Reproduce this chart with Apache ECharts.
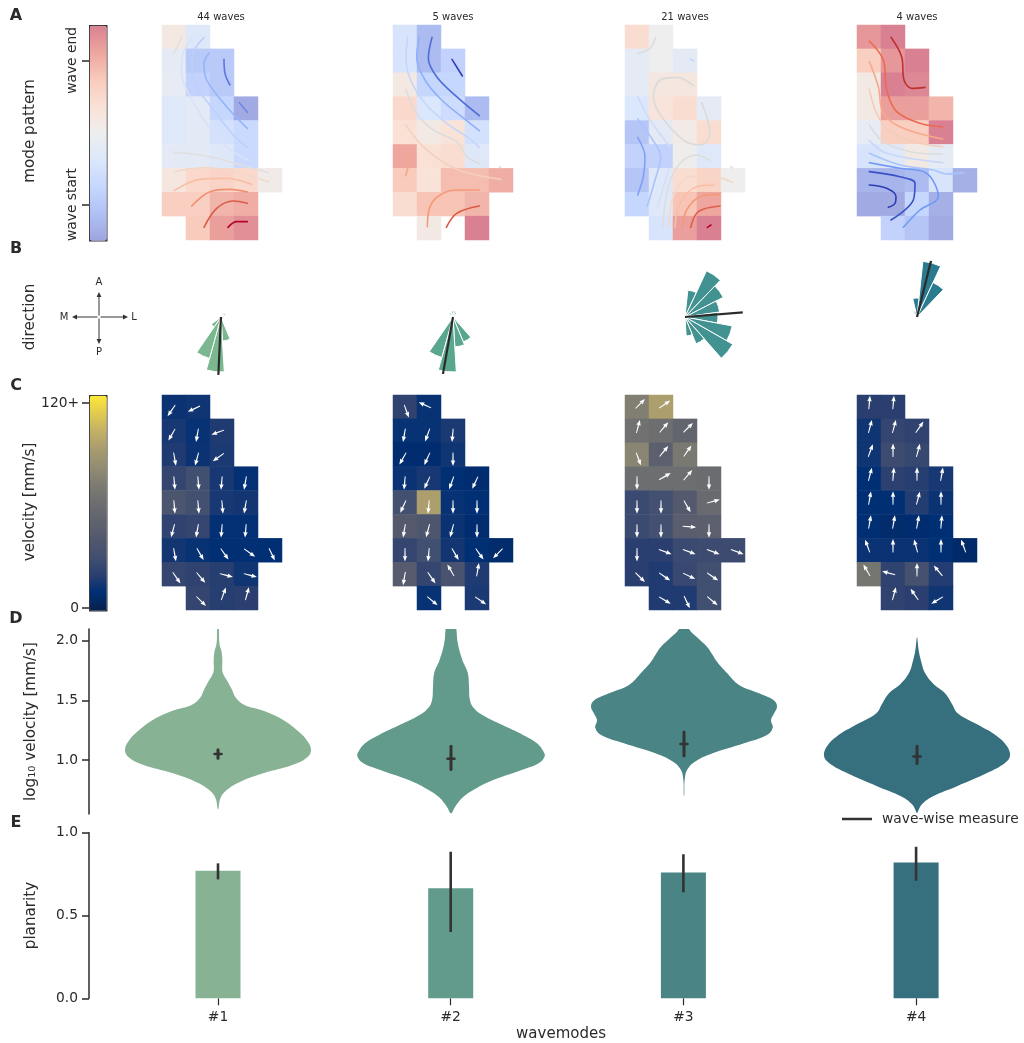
<!DOCTYPE html>
<html><head><meta charset="utf-8">
<style>html,body{margin:0;padding:0;background:#fff}#c{width:1024px;height:1043px}</style>
<script src="https://cdn.jsdelivr.net/npm/echarts@6/dist/echarts.min.js"></script>
</head><body><div id="c"></div>
<script>
// ---------- values ----------
const waveTitles = ['44 waves','5 waves','21 waves','4 waves'];
const modeNames = ['#1','#2','#3','#4'];
const _ = null;
// A: mode pattern, rows top to bottom, -1 wave start .. 1 wave end
const pattern1 = [[.12,-.2,_,_,_],[-.12,-.65,-.65,_,_],[-.1,-.55,-.65,_,_],[-.2,-.15,-.5,-.95,_],[-.2,-.15,-.35,-.45,_],[-.15,-.15,-.2,-.45,_],[.15,.35,.4,.35,.05],[.45,.45,.65,.7,_],[_,.5,.8,.9,_]];
const pattern2 = [[-.3,-.8,_,_,_],[-.3,-.8,-.55,_,_],[.12,-.5,-.5,_,_],[.35,-.25,-.4,-.8,_],[.25,.1,.22,-.35,_],[.75,.25,.3,-.2,_],[.5,.22,.6,.6,.7],[.3,.55,.55,.65,_],[_,.1,_,1,_]];
const pattern3 = [[.3,0,_,_,_],[-.12,0,-.15,_,_],[-.12,.15,.15,_,_],[-.25,.2,.3,-.12,_],[-.7,-.15,.08,.3,_],[-.55,-.55,.02,-.2,_],[-.7,-.2,.3,.4,0],[-.5,-.2,.55,.75,_],[_,-.3,.8,1,_]];
const pattern4 = [[.85,1,_,_,_],[.45,.85,1,_,_],[.1,1,.95,_,_],[.1,.8,.8,.65,_],[-.1,.45,.45,1,_],[-.3,-.2,.1,-.12,_],[-.85,-.85,-.8,-.3,-.9],[-.95,-.95,-.5,-.9,_],[_,-.55,-.7,-.95,_]];
// A: streamlines, in lattice units (360 wide, 645 tall over the electrode grid)
const streams1 = [
 [[59,37],[36,85]],
 [[92,37],[62,90],[59,145],[84,215],[114,265],[150,320],[200,370],[256,405]],
 [[126,37],[90,95],[95,165],[155,255],[214,330],[256,367]],
 [[141,85],[126,115],[134,165],[194,245],[256,310]],
 [[186,103],[189,145],[204,180]],
 [[232,233],[256,262]],
 [[36,382],[94,387],[164,400],[234,420],[320,443]],
 [[36,440],[134,428],[214,440],[320,470]],
 [[36,497],[114,463],[194,460],[269,478]],
 [[89,543],[144,500],[204,493],[256,501]],
 [[126,607],[164,550],[214,528],[256,535]],
 [[198,607],[224,590],[256,590]]];
const shades1 = ['#e0e0e0','#d8e2f6','#bcd0fb','#94b4fb','#5a76e0','#6f86e8','#e0dede','#f2d8c9','#f8bfa5','#f0906f','#d95c48','#b40426'];
const streams2 = [
 [[44,37],[39,95],[51,160],[96,235],[161,295],[221,335],[259,367]],
 [[79,37],[71,95],[96,165],[146,225],[206,275],[259,317]],
 [[117,37],[106,100],[131,155],[191,215],[259,272]],
 [[177,103],[208,153]],
 [[38,193],[71,265],[121,315],[191,350],[221,395],[261,417]],
 [[38,300],[81,355],[141,405],[211,440],[323,463]],
 [[39,387],[46,415],[38,452]],
 [[103,605],[111,545],[141,510],[191,495],[259,495]],
 [[160,607],[191,565],[259,543]],
 [[319,425],[323,428]]];
const shades2 = ['#c5d6fb','#8fb0fb','#4f6cd8','#2f3fb5','#dcdcdc','#f5d0bc','#f5a688','#f49a78','#dc5a42','#dddddd'];
const streams3 = [
 [[92,37],[75,70],[38,85]],
 [[197,103],[206,107]],
 [[206,182],[155,157],[105,165],[85,215],[110,275],[175,345],[225,360],[255,325],[230,233]],
 [[38,215],[75,285],[135,365]],
 [[132,430],[97,547]],
 [[113,607],[130,485],[165,415],[215,390],[255,407]],
 [[38,282],[90,355],[107,395],[90,465],[67,543]],
 [[38,337],[60,395],[55,455],[38,510]],
 [[132,607],[145,515],[195,455],[265,455],[323,472]],
 [[150,607],[165,535],[215,485],[267,480]],
 [[172,607],[185,555],[225,515],[285,508]],
 [[197,607],[220,560],[285,543]],
 [[247,607],[258,600]],
 [[317,425],[323,429]]];
const shades3 = ['#dcdcdc','#c5d6fb','#dadada','#cfdcf7','#d5e0f5','#dddddd','#a9c3fb','#7fa0f5','#f5d8c8','#f9bfa5','#f29a78','#dd5f48','#b40426','#dddddd'];
const streams4 = [
 [[102,37],[134,95],[141,165],[164,190],[204,187]],
 [[37,48],[79,105],[89,195],[119,260],[189,295],[257,306]],
 [[37,110],[64,185],[79,265],[139,310],[257,342]],
 [[37,193],[59,265],[99,320],[189,355],[257,365]],
 [[37,300],[79,350],[159,380],[257,387]],
 [[37,347],[89,385],[257,413]],
 [[37,385],[129,420],[229,435],[269,447],[321,443]],
 [[37,413],[129,430],[209,445],[244,515],[189,555],[139,607]],
 [[37,440],[129,455],[174,475],[169,525],[102,585]],
 [[37,480],[89,490],[117,515],[114,535],[94,547]]];
const shades4 = ['#c0302f','#e96a50','#f9a98a','#f3cdb9','#dcdcdc','#c8d7f8','#a9c3fb','#7099f5','#3a50c8','#2d3fb0'];
// B: rose lengths per 19 direction bins, and mean direction (deg clockwise from A)
const rose1 = [3,4,5,0,0,0,0,0,24,55,43,12,0,0,0,0,0,0,0];
const rose2 = [6,5,0,0,0,0,0,27,30,55,42,0,0,0,0,0,5,0,6];
const rose3 = [27,51,43,35,33,48,55,29,19,0,0,0,0,0,0,0,0,0,0];
const rose4 = [56,38,0,0,0,0,0,0,0,0,0,0,0,0,0,0,0,6,19];
const roseBins = ['b0','b1','b2','b3','b4','b5','b6','b7','b8','b9','b10','b11','b12','b13','b14','b15','b16','b17','b18'];
const meanDirection = [182.6,190,85.5,14];
const meanDirectionLength = [58,58,59,58];
// C: velocity per electrode
const velocity1 = [[12,13,_,_,_],[15,11,17,_,_],[17,12,16,_,_],[24,30,15,10,_],[37,31,15,14,_],[22,24,10,10,_],[14,11,9,10,9],[24,22,19,13,_],[_,24,19,20,_]];
const velocity2 = [[22,11,_,_,_],[11,11,16,_,_],[8,8,13,_,_],[12,15,9,8,_],[31,95,11,9,_],[42,38,12,8,_],[24,30,14,9,7],[44,24,35,17,_],[_,11,_,16,_]];
const velocity3 = [[74,95,_,_,_],[64,62,53,_,_],[78,48,70,_,_],[62,62,62,60,_],[27,31,42,58,_],[27,31,46,48,_],[20,20,27,28,28],[20,17,26,30,_],[_,17,17,30,_]];
const velocity4 = [[20,20,_,_,_],[13,24,22,_,_],[13,28,25,_,_],[9,21,19,15,_],[9,9,18,12,_],[9,7,8,9,_],[12,12,12,9,6],[68,22,33,18,_],[_,22,20,13,_]];
// C: arrow heading, deg clockwise from up
const heading1 = [[215,245,_,_,_],[210,190,250,_,_],[170,195,235,_,_],[175,175,185,190,_],[175,175,175,190,_],[195,190,185,185,_],[170,150,145,125,155],[145,140,105,105,_],[_,135,20,15,_]];
const heading2 = [[160,295,_,_,_],[190,200,185,_,_],[210,205,180,_,_],[185,205,200,205,_],[205,185,180,180,_],[190,195,195,180,_],[180,185,150,145,225],[190,145,330,10,_],[_,130,_,125,_]];
const heading3 = [[45,55,_,_,_],[15,40,45,_,_],[160,40,35,_,_],[180,60,40,180,_],[180,180,150,75,_],[180,180,95,180,_],[180,110,110,110,110],[135,125,115,125,_],[_,120,155,130,_]];
const heading4 = [[5,5,_,_,_],[15,15,35,_,_],[20,0,15,_,_],[15,5,0,10,_],[10,0,15,0,_],[10,10,10,5,_],[340,0,345,0,340],[330,285,0,320,_],[_,15,325,240,_]];
// D: violin outlines: log10 velocity and half width (x axis has 233 units per mode)
const violinCentres = [0,233,466,699];
const violinLog1 = [2.12,1.98,1.91,1.84,1.75,1.71,1.66,1.59,1.52,1.46,1.42,1.365,1.32,1.25,1.18,1.09,1.02,.96,.89,.82,.75,.68,.585];
const violinHalf1 = [.7,1.4,3.5,4.3,4.3,6,9.6,14,18,27,43,59,68,79,87.5,93,89,75,46,23,9,2.5,.3];
const violinLog2 = [2.2,2.10,1.98,1.84,1.73,1.615,1.50,1.435,1.38,1.295,1.21,1.14,1.07,1.03,.975,.92,.835,.765,.695,.61,.555];
const violinHalf2 = [4,5.4,6.8,11.4,16.8,18,19,23,31,51,72,86,92.5,93.6,88,72,43.6,26,13,4.3,.7];
const violinLog3 = [2.2,2.10,2.03,1.95,1.89,1.825,1.73,1.63,1.56,1.50,1.45,1.39,1.335,1.27,1.21,1.14,1.06,.99,.92,.835,.70];
const violinHalf3 = [1,5,13,23,28,33,43,55,75,90,93,90,87,88.7,83,60,30,11.7,3.3,.7,.2];
const violinLog4 = [2.03,1.92,1.81,1.73,1.64,1.56,1.475,1.39,1.295,1.2,1.115,1.035,.975,.89,.78,.695,.625,.555];
const violinHalf4 = [.2,1.7,4.7,8,16.3,28,34.7,41,61,80,90,93,88,70,40,16,4.7,.3];
const velocityMean = [1.05,1.01,1.135,1.03];
const velocityLow = [1.015,.92,1.035,.97];
const velocityHigh = [1.085,1.115,1.235,1.115];
// E: planarity
const planarity = [.77,.665,.76,.82];
const planarityLow = [.718,.40,.64,.71];
const planarityHigh = [.815,.885,.87,.915];

// ---------- styling ----------
const FONT = 'DejaVu Sans';
const INK = '#2b2b2b';
const panelLeft = [162,393,625,857];
const roseX = [221,453,685,917];
const roseColors = ['#7cb88f','#5aa78f','#429291','#2a7b8f'];
const modeColors = ['#87b294','#629b8c','#4a8485','#36707f'];
const coolwarm = ['#9da5df','#b0c0f4','#c6d7fe','#dbe7fc','#eeeeee','#fae1d6','#f9cbbc','#eea69f','#d98192'];
const cividis = ['#08204c','#002f75','#2a3f70','#424f70','#52586d','#60636e','#6c6e70','#7d7c72','#928c72','#a89c6e','#c2b066','#e0ca50','#fee838'];
const colLabels = ['c0','c1','c2','c3','c4'];
const rowLabels = ['r0','r1','r2','r3','r4','r5','r6','r7','r8'];
const arrow = 'path://M10,0 L20,42 L13,38 L12,100 L8,100 L7,38 L0,42 Z';

const grid=[], xAxis=[], yAxis=[], series=[], polar=[], angleAxis=[], radiusAxis=[];
function addGrid(g,x,y){grid.push(Object.assign({outerBoundsMode:'none'},g));const i=grid.length-1;xAxis.push(Object.assign({gridIndex:i},x));yAxis.push(Object.assign({gridIndex:i},y));return i;}
function cells(m){const o=[];m.forEach((r,j)=>r.forEach((v,i)=>{if(v!==null)o.push([i,j,v]);}));return o;}
function catGrid(left,top){return addGrid({left,top,width:120,height:215},
  {type:'category',data:colLabels,show:false},{type:'category',data:rowLabels,inverse:true,show:false});}

const patternSeries=[], velocitySeries=[];
[[pattern1,streams1,shades1],[pattern2,streams2,shades2],[pattern3,streams3,shades3],[pattern4,streams4,shades4]].forEach((p,k)=>{
  const gi=catGrid(panelLeft[k],25);
  patternSeries.push(series.length);
  series.push({type:'heatmap',xAxisIndex:gi,yAxisIndex:gi,data:cells(p[0])});
  const gs=addGrid({left:panelLeft[k],top:25,width:120,height:215},
     {type:'value',min:0,max:360,show:false},{type:'value',min:0,max:645,inverse:true,show:false});
  p[1].forEach((pts,n)=>series.push({type:'line',xAxisIndex:gs,yAxisIndex:gs,data:pts,smooth:.35,showSymbol:false,symbol:'none',z:5,
     lineStyle:{color:p[2][n],width:1.6,cap:'round'}}));
});
[[velocity1,heading1],[velocity2,heading2],[velocity3,heading3],[velocity4,heading4]].forEach((p,k)=>{
  const gi=catGrid(panelLeft[k],395);
  velocitySeries.push(series.length);
  series.push({type:'heatmap',xAxisIndex:gi,yAxisIndex:gi,data:cells(p[0])});
  const arrows=[];
  p[1].forEach((r,j)=>r.forEach((a,i)=>{ if(a===null)return; const t=a*Math.PI/180;
    arrows.push({value:[i,j],symbolRotate:-a,symbolOffset:[4.5*Math.sin(t),-4.5*Math.cos(t)]}); }));
  series.push({type:'scatter',xAxisIndex:gi,yAxisIndex:gi,data:arrows,symbol:arrow,symbolSize:[4.5,13.5],itemStyle:{color:'#fff',opacity:1},z:5});
});
// colour-bar tick axes
const labelStyle={color:INK,fontFamily:FONT,fontSize:13.8};
addGrid({left:89,top:25,width:17,height:215},{type:'value',show:false,min:0,max:1},
  {type:'value',min:-1,max:1,axisLine:{show:false},splitLine:{show:false},
   axisTick:{show:true,length:7,customValues:[-.67,.67],lineStyle:{color:INK,width:1.5}},
   axisLabel:Object.assign({customValues:[-.67,.67],rotate:90,margin:10,formatter:v=>v>0?'wave end':'wave start'},labelStyle)});
addGrid({left:89,top:395,width:17,height:215},{type:'value',show:false,min:0,max:1},
  {type:'value',min:-1.17,max:124.7,axisLine:{show:false},splitLine:{show:false},
   axisTick:{show:true,length:7,customValues:[0,120],lineStyle:{color:INK,width:1.5}},
   axisLabel:Object.assign({customValues:[0,120],margin:10,formatter:v=>v>60?'120+':'0'},labelStyle)});

// B rose plots
[rose1,rose2,rose3,rose4].forEach((vals,k)=>{
  polar.push({center:[roseX[k],317],radius:58});
  const pb=polar.length-1;
  angleAxis.push({polarIndex:pb,type:'category',data:roseBins,startAngle:84,clockwise:true,show:false});
  radiusAxis.push({polarIndex:pb,type:'value',min:0,max:58,show:false});
  series.push({type:'bar',coordinateSystem:'polar',polarIndex:pb,data:vals,barCategoryGap:'0%',
     itemStyle:{color:roseColors[k],borderColor:'#fff',borderWidth:1}});
  polar.push({center:[roseX[k],317],radius:58});
  const pl=polar.length-1;
  angleAxis.push({polarIndex:pl,type:'value',min:0,max:360,startAngle:90,clockwise:true,show:false});
  radiusAxis.push({polarIndex:pl,type:'value',min:0,max:58,show:false});
  series.push({type:'line',coordinateSystem:'polar',polarIndex:pl,showSymbol:false,symbol:'none',z:6,
     data:[[0,meanDirection[k]],[meanDirectionLength[k],meanDirection[k]]],lineStyle:{color:INK,width:2.2}});
});

// D violins
const nameStyle={color:INK,fontFamily:FONT,fontSize:15.2};
const gV=addGrid({left:89,top:629,width:931,height:185},
  {type:'value',min:-129,max:802,show:false},
  {type:'value',min:.546,max:2.1,name:'log\u2081\u2080 velocity [mm/s]',nameLocation:'middle',nameGap:50,nameRotate:90,
   nameTextStyle:nameStyle,
   axisLine:{show:true,onZero:false,lineStyle:{color:INK,width:1.5}},splitLine:{show:false},
   axisTick:{show:true,length:7,customValues:[1,1.5,2],lineStyle:{color:INK,width:1.5}},
   axisLabel:Object.assign({customValues:[1,1.5,2],margin:11,formatter:v=>v.toFixed(1)},labelStyle)});
[[violinLog1,violinHalf1],[violinLog2,violinHalf2],[violinLog3,violinHalf3],[violinLog4,violinHalf4]].forEach((v,k)=>{
  const c=violinCentres[k];
  series.push({type:'custom',clip:true,xAxisIndex:gV,yAxisIndex:gV,data:[[c,velocityMean[k]]],silent:true,
    renderItem:(params,api)=>{
      const left=v[0].map((y,i)=>api.coord([c-v[1][i],y]));
      const right=v[0].map((y,i)=>api.coord([c+v[1][i],y])).reverse();
      return {type:'polygon',shape:{points:left.concat(right),smooth:.4,smoothConstraint:false},style:{fill:modeColors[k]}};
    }});
});
series.push({type:'custom',xAxisIndex:gV,yAxisIndex:gV,z:6,data:violinCentres.map((c,k)=>[c,velocityMean[k],velocityLow[k],velocityHigh[k]]),
  renderItem:(params,api)=>{
    const c=api.value(0),a=api.coord([c,api.value(3)]),b=api.coord([c,api.value(2)]),m=api.coord([c,api.value(1)]);
    const st={stroke:'#333',lineWidth:3,lineCap:'round'};
    return {type:'group',children:[
      {type:'line',shape:{x1:a[0],y1:a[1],x2:b[0],y2:b[1]},style:st},
      {type:'line',shape:{x1:m[0]-3.5,y1:m[1],x2:m[0]+3.5,y2:m[1]},style:{stroke:'#333',lineWidth:2.5,lineCap:'round'}}]};
  }});

// E bars
const gB=addGrid({left:101.65,top:832.7,width:930.8,height:165.6},
  {type:'category',data:modeNames,axisLine:{show:false},axisTick:{show:true,alignWithLabel:true,length:7,lineStyle:{color:INK,width:1.2}},
   axisLabel:Object.assign({margin:12},labelStyle),name:'wavemodes',nameLocation:'middle',nameGap:28,
   nameTextStyle:Object.assign({padding:[0,12,0,0]},nameStyle,{fontSize:15})},
  {type:'value',min:0,max:1,interval:.5,offset:12.65,name:'planarity',nameLocation:'middle',nameGap:50,nameRotate:90,
   nameTextStyle:nameStyle,
   axisLine:{show:true,lineStyle:{color:INK,width:1.5}},splitLine:{show:false},
   axisTick:{show:true,length:7,lineStyle:{color:INK,width:1.5}},
   axisLabel:Object.assign({margin:11,formatter:v=>v.toFixed(1)},labelStyle)});
series.push({type:'bar',xAxisIndex:gB,yAxisIndex:gB,barWidth:45,data:planarity.map((v,i)=>({value:v,itemStyle:{color:modeColors[i]}}))});
series.push({type:'custom',name:'wave-wise measure',xAxisIndex:gB,yAxisIndex:gB,z:6,itemStyle:{color:'#333'},
  data:planarity.map((v,i)=>[i,planarityLow[i],planarityHigh[i]]),
  renderItem:(params,api)=>{
    const a=api.coord([api.value(0),api.value(2)]),b=api.coord([api.value(0),api.value(1)]);
    return {type:'line',shape:{x1:a[0],y1:a[1],x2:b[0],y2:b[1]},style:{stroke:'#333',lineWidth:2.6}};
  }});

// free text
function txt(text,x,y,o){return Object.assign({type:'text',x,y,silent:true,
  style:Object.assign({text,fill:INK,font:`13px "${FONT}"`,textAlign:'center',textVerticalAlign:'middle'},o&&o.style||{})},o&&o.rotation?{rotation:o.rotation}:{});}
const bold={style:{font:`bold 16px "${FONT}"`}};
const rot={rotation:Math.PI/2,style:{font:`15.2px "${FONT}"`}};
const small={style:{font:`10px "${FONT}"`}};
const graphic=[
  txt('A',16,16,bold),txt('B',16,249,bold),txt('C',16,386,bold),txt('D',16,619,bold),txt('E',16,823,bold),
  txt('mode pattern',30,131,rot),txt('direction',30,317,rot),txt('velocity [mm/s]',30,502,rot),
  txt('A',99,282,small),txt('P',99,352,small),txt('M',64,317,small),txt('L',134,317,small)];
waveTitles.forEach((t,k)=>graphic.push(txt(t,roseX[k],17,small)));
const ln={stroke:'#333',lineWidth:1};
[[99,315.5,99,294],[99,318.5,99,342],[97.5,317,74,317],[100.5,317,126,317]].forEach(s=>
  graphic.push({type:'line',silent:true,shape:{x1:s[0],y1:s[1],x2:s[2],y2:s[3]},style:ln}));
[[[99,292],[96.6,297],[101.4,297]],[[99,344],[96.6,339],[101.4,339]],[[72,317],[77,314.6],[77,319.4]],[[128,317],[123,314.6],[123,319.4]]].forEach(p=>
  graphic.push({type:'polygon',silent:true,shape:{points:p},style:{fill:'#333'}}));

const chart=echarts.init(document.getElementById('c'),null,{renderer:'canvas'});
const barFrame={show:true,left:89,itemWidth:17,itemHeight:215,padding:0,borderColor:'#333',borderWidth:1.5,calculable:false,hoverLink:false,text:null,orient:'vertical'};
chart.setOption({
  animation:false,backgroundColor:'#fff',grid,xAxis,yAxis,polar,angleAxis,radiusAxis,series,graphic,
  textStyle:{fontFamily:FONT},
  legend:{left:842,top:812,padding:0,itemWidth:30,itemHeight:2.5,selectedMode:false,
    data:[{name:'wave-wise measure',icon:'rect',itemStyle:{color:'#333'}}],
    textStyle:{color:INK,fontFamily:FONT,fontSize:13.8,padding:[0,0,0,5]}},
  visualMap:[
    Object.assign({},barFrame,{top:25,min:-1,max:1,seriesIndex:patternSeries,inRange:{color:coolwarm}}),
    Object.assign({},barFrame,{top:395,min:-1.17,max:124.7,seriesIndex:velocitySeries,inRange:{color:cividis}})
  ]
});
</script></body></html>
